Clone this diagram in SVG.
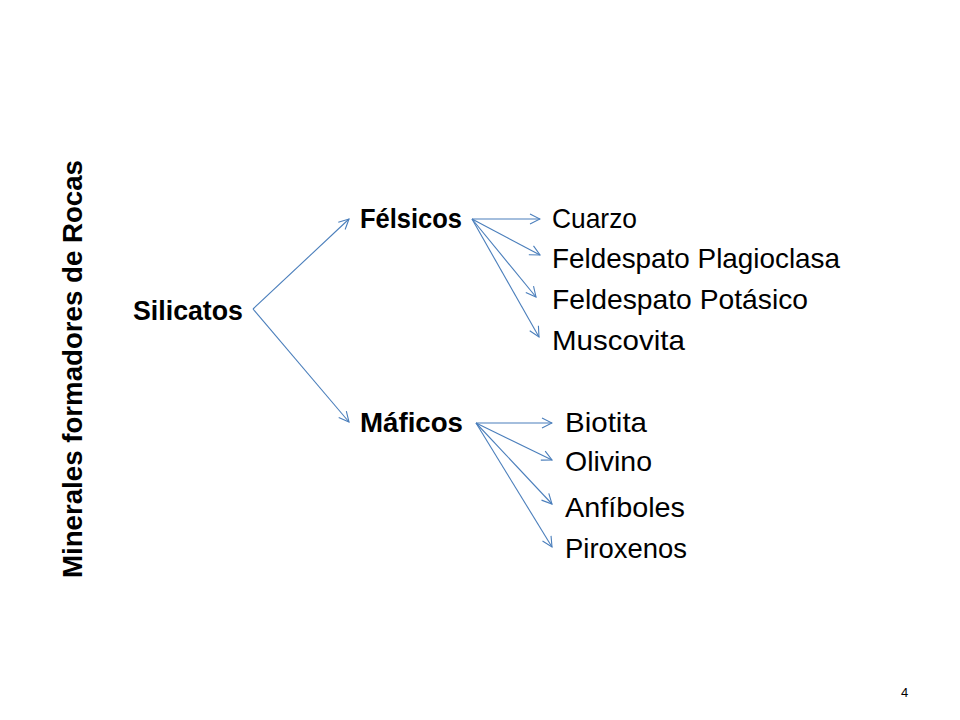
<svg xmlns="http://www.w3.org/2000/svg" width="960" height="720" viewBox="0 0 960 720">
<style>
text{font-family:"Liberation Sans",Arial,sans-serif;fill:#000}
.b{font-weight:bold;font-size:28px}
.n{font-size:28px}
.c line{stroke:#4a7ebb;stroke-width:1.1;fill:none;marker-end:url(#ah)}
</style>
<defs>
<marker id="ah" viewBox="0 0 12 12" refX="11" refY="6" markerWidth="12" markerHeight="12" markerUnits="userSpaceOnUse" orient="auto">
<path d="M1,1 L11,6 L1,11" fill="none" stroke="#4a7ebb" stroke-width="1.1"/>
</marker>
</defs>
<rect width="960" height="720" fill="#fff"/>
<g id="title"><text class="b" transform="translate(82,578) rotate(-90)" textLength="418" lengthAdjust="spacingAndGlyphs">Minerales formadores de Rocas</text></g>
<g id="silicatos"><text class="b" x="133" y="320" textLength="110" lengthAdjust="spacingAndGlyphs">Silicatos</text></g>
<g id="felsicos"><text class="b" x="360" y="228" textLength="102" lengthAdjust="spacingAndGlyphs">Félsicos</text></g>
<g id="maficos"><text class="b" x="360" y="432" textLength="103" lengthAdjust="spacingAndGlyphs">Máficos</text></g>
<g id="cuarzo"><text class="n" x="552" y="228" textLength="85" lengthAdjust="spacingAndGlyphs">Cuarzo</text></g>
<g id="plagioclasa"><text class="n" x="552" y="268" textLength="288" lengthAdjust="spacingAndGlyphs">Feldespato Plagioclasa</text></g>
<g id="potasico"><text class="n" x="552" y="309" textLength="256" lengthAdjust="spacingAndGlyphs">Feldespato Potásico</text></g>
<g id="muscovita"><text class="n" x="552" y="350" textLength="133" lengthAdjust="spacingAndGlyphs">Muscovita</text></g>
<g id="biotita"><text class="n" x="565" y="432" textLength="82" lengthAdjust="spacingAndGlyphs">Biotita</text></g>
<g id="olivino"><text class="n" x="565" y="471" textLength="87" lengthAdjust="spacingAndGlyphs">Olivino</text></g>
<g id="anfiboles"><text class="n" x="565" y="517" textLength="120" lengthAdjust="spacingAndGlyphs">Anfíboles</text></g>
<g id="piroxenos"><text class="n" x="565" y="558" textLength="122" lengthAdjust="spacingAndGlyphs">Piroxenos</text></g>
<g id="page"><text x="901" y="697" style="font-size:13px">4</text></g>
<g class="c" id="connectors">
<line x1="253" y1="309" x2="349" y2="219"/>
<line x1="253" y1="309" x2="349" y2="422"/>
<line x1="472" y1="219" x2="540" y2="219"/>
<line x1="472" y1="219" x2="540" y2="255"/>
<line x1="472" y1="219" x2="536" y2="297"/>
<line x1="472" y1="219" x2="539" y2="337"/>
<line x1="476" y1="423" x2="552" y2="423"/>
<line x1="476" y1="423" x2="552" y2="460"/>
<line x1="476" y1="423" x2="552" y2="504"/>
<line x1="476" y1="423" x2="552" y2="547"/>
</g>
</svg>
